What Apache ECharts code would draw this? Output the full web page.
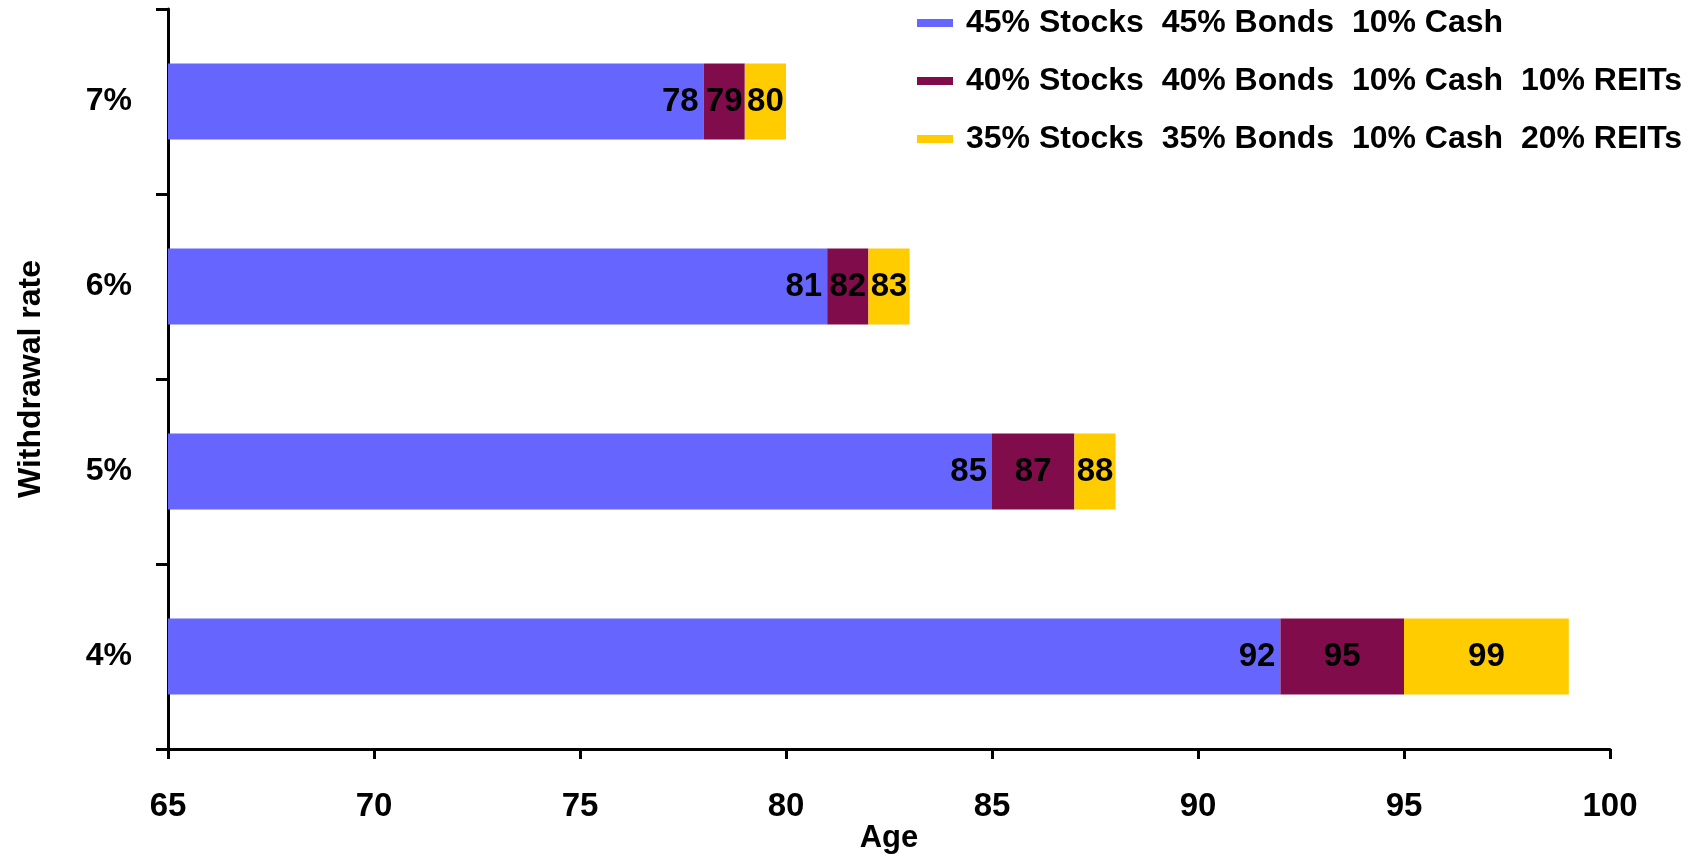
<!DOCTYPE html>
<html>
<head>
<meta charset="utf-8">
<script src="https://cdn.jsdelivr.net/npm/echarts@6/dist/echarts.min.js"></script>
<style>
html,body{margin:0;padding:0;background:#fff;}
#chart{width:1698px;height:857px;}
</style>
</head>
<body>
<div id="chart"></div>
<script>
const categories = ['4%', '5%', '6%', '7%'];
const seriesNames = [
  '45% Stocks  45% Bonds  10% Cash',
  '40% Stocks  40% Bonds  10% Cash  10% REITs',
  '35% Stocks  35% Bonds  10% Cash  20% REITs'
];
const ages45 = [92, 85, 81, 78];
const ages40 = [95, 87, 82, 79];
const ages35 = [99, 88, 83, 80];
const xTicks = [65, 70, 75, 80, 85, 90, 95, 100];

const colors = ['#6666FF', '#800C4C', '#FFCC00'];
const FONT = '"Liberation Sans", Arial, sans-serif';

const seg2 = ages40.map((v, i) => v - ages45[i]);
const seg3 = ages35.map((v, i) => v - ages40[i]);

const labelBase = {
  show: true,
  color: '#000',
  fontFamily: FONT,
  fontWeight: 'bold',
  fontSize: 33
};

const chart = echarts.init(document.getElementById('chart'), null, {renderer: 'canvas'});
chart.setOption({
  animation: false,
  backgroundColor: '#fff',
  grid: {left: 168, right: 88, top: 9, bottom: 108, containLabel: false, outerBoundsMode: 'none'},
  legend: {
    orient: 'vertical',
    left: 917,
    top: 6,
    padding: 0,
    itemWidth: 36,
    itemHeight: 8,
    itemGap: 24,
    icon: 'rect',
    data: seriesNames,
    textStyle: {
      fontFamily: FONT,
      fontWeight: 'bold',
      fontSize: 32,
      lineHeight: 34,
      color: '#000',
      padding: [0, 0, 0, 8]
    }
  },
  xAxis: {
    type: 'value',
    min: xTicks[0],
    max: xTicks[xTicks.length - 1],
    interval: 5,
    name: 'Age',
    nameLocation: 'middle',
    nameGap: 74,
    nameMoveOverlap: false,
    nameTextStyle: {fontFamily: FONT, fontWeight: 'bold', fontSize: 31, color: '#000'},
    axisLine: {show: true, lineStyle: {color: '#000', width: 3}},
    axisTick: {show: true, length: 10, lineStyle: {color: '#000', width: 3}},
    axisLabel: {fontFamily: FONT, fontWeight: 'bold', fontSize: 33, color: '#000', margin: 41},
    splitLine: {show: false}
  },
  yAxis: {
    type: 'category',
    data: categories,
    name: 'Withdrawal rate',
    nameLocation: 'middle',
    nameGap: 121,
    nameRotate: 90,
    nameMoveOverlap: false,
    nameTextStyle: {fontFamily: FONT, fontWeight: 'bold', fontSize: 32, color: '#000'},
    axisLine: {show: true, lineStyle: {color: '#000', width: 3}},
    axisTick: {show: true, length: 12, alignWithLabel: false, lineStyle: {color: '#000', width: 3}},
    axisLabel: {fontFamily: FONT, fontWeight: 'bold', fontSize: 32, color: '#000', margin: 36},
    splitLine: {show: false}
  },
  series: [
    {
      name: seriesNames[0], type: 'bar', stack: 'age', data: ages45,
      barWidth: 76, itemStyle: {color: colors[0]},
      label: Object.assign({}, labelBase, {position: 'insideRight', distance: 5,
        formatter: p => String(ages45[p.dataIndex])})
    },
    {
      name: seriesNames[1], type: 'bar', stack: 'age', data: seg2,
      barWidth: 76, itemStyle: {color: colors[1]},
      label: Object.assign({}, labelBase, {position: 'inside',
        formatter: p => String(ages40[p.dataIndex])})
    },
    {
      name: seriesNames[2], type: 'bar', stack: 'age', data: seg3,
      barWidth: 76, itemStyle: {color: colors[2]},
      label: Object.assign({}, labelBase, {position: 'inside',
        formatter: p => String(ages35[p.dataIndex])})
    }
  ]
});
</script>
</body>
</html>
